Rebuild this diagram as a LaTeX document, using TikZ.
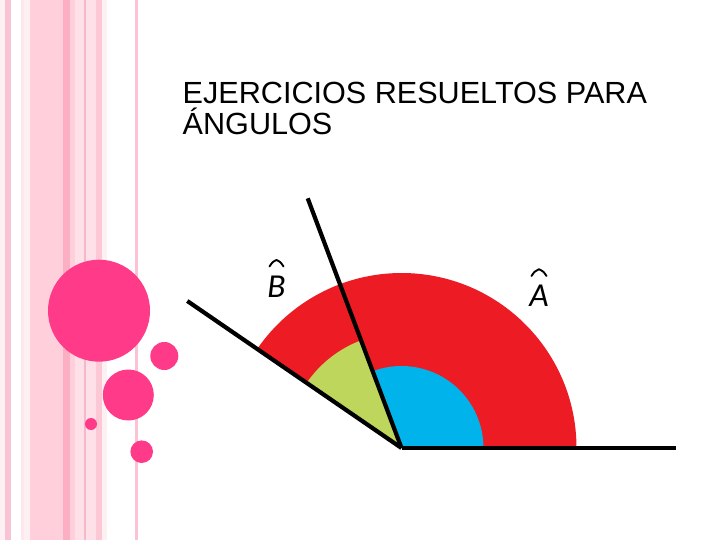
\documentclass[tikz,border=0pt]{standalone}
\usepackage{fontspec}
\setmainfont{Liberation Sans}
\newfontfamily\lblfont{Carlito}
\definecolor{dotpink}{HTML}{FF3A88}
\definecolor{sA}{HTML}{F9C3D3}
\definecolor{sB}{HTML}{FDE8EE}
\definecolor{sC}{HTML}{FFD0DC}
\definecolor{sD}{HTML}{FCAEC2}
\definecolor{sE}{HTML}{FDE0E8}
\definecolor{sF}{HTML}{F5B8C8}
\definecolor{sG}{HTML}{FCC8D5}
\definecolor{sH}{HTML}{FDF0F3}
\definecolor{angred}{HTML}{ED1C24}
\definecolor{anggreen}{HTML}{BED65C}
\definecolor{angblue}{HTML}{00B3EA}
\tikzset{
  stripe/.style={fill=#1, draw=none},
  dot/.style={circle, fill=dotpink, draw=none, inner sep=0pt, minimum size=#1},
  ray/.style={draw=black, line width=4.2pt},
  titletext/.style={anchor=base west, inner sep=0pt, font=\fontsize{30.6}{31}\selectfont},
  anglabel/.style={inner sep=0pt, font=\lblfont\itshape\fontsize{33.5}{33.5}\selectfont},
  hat/.style={draw=black, line width=1.9pt, line cap=round, line join=round}
}
\begin{document}
\begin{tikzpicture}[x=1pt,y=-1pt]
\useasboundingbox (0,0) rectangle (720,540);
\fill[white] (0,0) rectangle (720,540);
% stripes
\fill[stripe=sH] (0,0) rectangle (5,540);
\fill[stripe=sA] (5,0) rectangle (10.7,540);
\fill[stripe=sB] (20.7,0) rectangle (24,540);
\fill[stripe=sH] (24,0) rectangle (30,540);
\fill[stripe=sC] (30,0) rectangle (63.3,540);
\fill[stripe=sD] (63.3,0) rectangle (70,540);
\fill[stripe=sC] (70,0) rectangle (75,540);
\fill[stripe=sE] (75,0) rectangle (84,540);
\fill[stripe=sF] (84,0) rectangle (85.5,540);
\fill[stripe=sE] (85.5,0) rectangle (96,540);
\fill[stripe=sG] (96,0) rectangle (101.7,540);
\fill[stripe=sH] (101.7,0) rectangle (107.3,540);
\fill[stripe=sA] (135,0) rectangle (137.7,540);
% dots
\node[dot=102pt] (d1) at (99,310.7) {};
\node[dot=28pt] (d2) at (164.3,356) {};
\node[dot=51pt] (d3) at (128.3,395) {};
\node[dot=12pt] (d4) at (91,424) {};
\node[dot=22.6pt] (d5) at (141.7,451.7) {};
% title
\node[titletext] (t1) at (182.5,103.3) {EJERCICIOS RESUELTOS PARA};
\node[titletext] (t2) at (182.5,134.3) {ÁNGULOS};
% angle sectors
\coordinate (V) at (401.5,448);
\fill[angred] (V) -- ++(0:175) arc[start angle=0, end angle=-145.5, radius=175] -- cycle;
\fill[anggreen] (V) -- ++(-110.5:115) arc[start angle=-110.5, end angle=-145.5, radius=115] -- cycle;
\fill[angblue] (V) -- ++(0:82) arc[start angle=0, end angle=-110.5, radius=82] -- cycle;
% rays
\coordinate (E1) at (676,448);
\coordinate (E2) at (307.7,198.3);
\coordinate (E3) at (187.3,301);
\draw[ray] (V) -- (E1);
\draw[ray] (V) -- (E2);
\draw[ray] (V) -- (E3);
% labels
\node[anglabel] (lB) at (276.5,287) {B};
\node[anglabel] (lA) at (539,295.5) {A};
\draw[hat] (269.5,266.5) .. controls (272.5,262) .. (276.5,260) .. controls (280.5,262) .. (283.5,266.5);
\draw[hat] (531.5,276) .. controls (534.5,271.5) .. (539,269.3) .. controls (543.5,271.5) .. (546.5,276);
\end{tikzpicture}
\end{document}
